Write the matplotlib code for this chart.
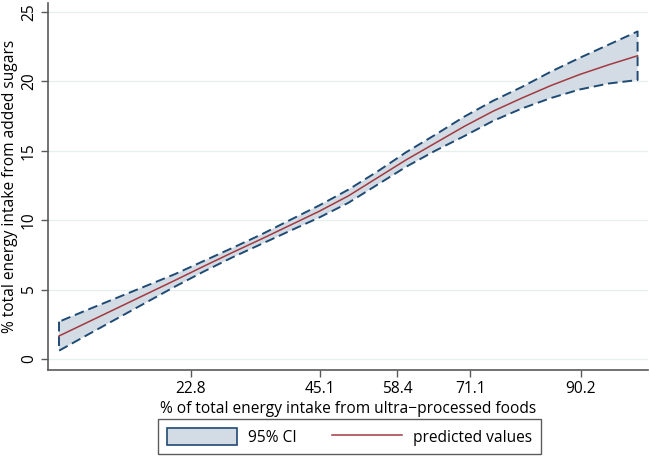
import matplotlib
matplotlib.use('Agg')
import matplotlib.pyplot as plt
from matplotlib.patches import Patch
from matplotlib.lines import Line2D

plt.rcParams['font.family'] = ['Open Sans', 'DejaVu Sans']

# データ
upf_pct = [0, 5, 10, 15, 20, 25, 30, 35, 40, 45, 50, 55, 60, 65, 70, 75, 80, 85, 90, 95, 100]
pred = [1.66, 2.66, 3.66, 4.66, 5.66, 6.68, 7.68, 8.65, 9.65, 10.65, 11.75, 13.05,
        14.35, 15.55, 16.75, 17.85, 18.8, 19.7, 20.5, 21.2, 21.85]
ci_upper = [2.69, 3.56, 4.41, 5.26, 6.11, 7.06, 8.01, 8.98, 10.03, 11.07, 12.2, 13.5,
            14.9, 16.15, 17.45, 18.6, 19.6, 20.7, 21.7, 22.65, 23.6]
ci_lower = [0.6, 1.76, 2.91, 4.06, 5.21, 6.3, 7.33, 8.29, 9.25, 10.2, 11.25, 12.55,
            13.85, 15.0, 16.05, 17.15, 18.05, 18.8, 19.42, 19.85, 20.1]

xticks = [22.8, 45.1, 58.4, 71.1, 90.2]
yticks = [0, 5, 10, 15, 20, 25]

navy = '#1f4a73'
fill_c = '#d3dbe5'
maroon = '#a23a40'

fig = plt.figure(figsize=(6.5, 4.61), dpi=100)
ax = fig.add_axes([48/650, 1 - 370/461, 600/650, 367/461])

ax.fill_between(upf_pct, ci_lower, ci_upper, facecolor=fill_c, edgecolor=navy,
                linewidth=1.4, linestyle=(0, (5, 2.5)), zorder=2)
ax.plot(upf_pct, pred, color=maroon, linewidth=1.1, zorder=3)

ax.set_xlim(-1.9, 101.8)
ax.set_ylim(-0.79, 25.65)
ax.set_xticks(xticks)
ax.set_xticklabels([f'{t:.1f}' for t in xticks])
ax.set_yticks(yticks)
ax.set_yticklabels([str(t) for t in yticks], rotation=90, va='center')

ax.yaxis.grid(True, color='#e6eeee', linewidth=0.9, zorder=0)
ax.set_axisbelow(True)
for s in ['top', 'right']:
    ax.spines[s].set_visible(False)
for s in ['left', 'bottom']:
    ax.spines[s].set_color('#5a5a5a')
    ax.spines[s].set_linewidth(1.2)
ax.tick_params(axis='both', direction='out', length=5, width=1, color='#5a5a5a',
               labelsize=11.2, pad=3)

ax.set_xlabel('% of total energy intake from ultra\u2212processed foods', fontsize=11.2, labelpad=3)
ax.set_ylabel('% total energy intake from added sugars', fontsize=11.2, labelpad=2)

handles = [Patch(facecolor=fill_c, edgecolor=navy, linewidth=1.2),
           Line2D([], [], color=maroon, linewidth=1.1)]
leg = fig.legend(handles, ['95% CI', 'predicted values'], ncol=2,
                 loc='lower center', bbox_to_anchor=(349.5/650, -1/461),
                 fontsize=11.2, frameon=True, fancybox=False, edgecolor='#333333',
                 handlelength=4.5, handleheight=1.3, handletextpad=0.7,
                 columnspacing=2.3, borderpad=0.55)
leg.get_frame().set_linewidth(1.0)

fig.savefig('out.png', dpi=100, facecolor='white')
